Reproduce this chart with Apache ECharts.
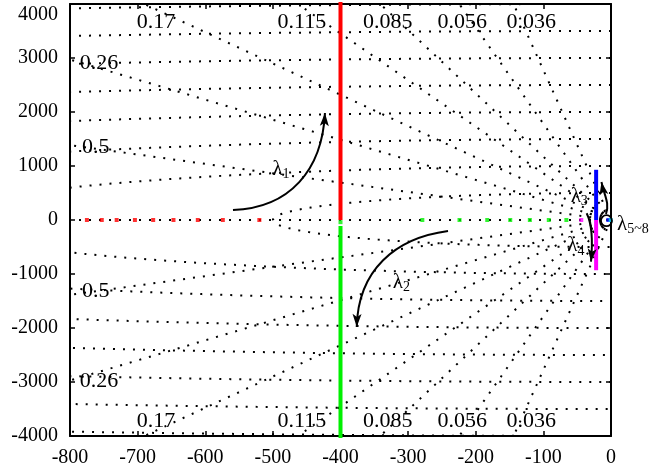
<!DOCTYPE html>
<html>
<head>
<meta charset="utf-8">
<script src="https://cdn.jsdelivr.net/npm/echarts@6/dist/echarts.min.js"></script>
<style>
  html, body { margin: 0; padding: 0; background: #fff; }
  #main { width: 649px; height: 471px; }
</style>
</head>
<body>
<div id="main"></div>
<script>
// Axis ticks
const xTicks = [-800, -700, -600, -500, -400, -300, -200, -100, 0];
const yTicks = [-4000, -3000, -2000, -1000, 0, 1000, 2000, 3000, 4000];

// s-plane grid: damping ratios (rays) and natural frequencies (circles)
const dampingRatios = [0.036, 0.056, 0.085, 0.115, 0.17, 0.26, 0.5];
const naturalFreqs = [500, 1000, 1500, 2000, 2500, 3000, 3500, 4000];

// Root-locus branches
const lambda1Real = [-775, -753, -731, -704, -677, -647, -611, -574, -520];
const lambda1Imag = [[-400, 0], [-400, 4100]];
const lambda2Real = [-279, -224, -183, -149, -120, -92, -66, -400];
const lambda2RealImag = [0, 0, 0, 0, 0, 0, 0, -40];
const lambda2Imag = [[-400, -110], [-400, -4100]];
const lambda3Real = [-4];
const lambda3Imag = [[-22, 0], [-22, 930]];
const lambda4Real = [-44];
const lambda4Imag = [[-22, 0], [-22, -930]];
const lambda58Real = [-0.5];

// Damping-ratio labels
const zetaLabelText = ['0.17', '0.115', '0.085', '0.056', '0.036', '0.26', '0.5',
                       '0.17', '0.115', '0.085', '0.056', '0.036', '0.26', '0.5'];
const zetaLabelAt = [
  [-673, 3657], [-457, 3657], [-330, 3657], [-220, 3657], [-118, 3657], [-757, 2907], [-762, 1352],
  [-673, -3735], [-457, -3735], [-330, -3735], [-220, -3735], [-118, -3735], [-757, -2981], [-762, -1324]
];

// Branch annotations (cubic curves with arrow heads, in s-plane coordinates)
const arrowPaths = [
  [[-559, 185], [-475, 222], [-427, 926], [-423, 1981]],
  [[-241, -204], [-319, -333], [-374, -926], [-376, -1981]],
  [[-7.4, 111], [-1.5, 315], [-10.4, 463], [-14.1, 704]],
  [[-36, 124], [-29.6, -37], [-26.6, -370], [-29.6, -772]]
];
const branchNames = [
  { sub: '1', at: [-488, 944] },
  { sub: '2', at: [-310, -1148] },
  { sub: '3', at: [-47, 444] },
  { sub: '4', at: [-52, -481] },
  { sub: '5~8', at: [9, -74] }
];

const FONT = 'Liberation Serif';
const dotted = { color: '#000', width: 2, type: [2, 8] };

const series = [];
function gridLine(data) {
  series.push({
    type: 'line', data: data, showSymbol: false, silent: true, z: 1,
    lineStyle: dotted, animation: false, clip: true
  });
}
dampingRatios.forEach(function (z) {
  const s = Math.sqrt(1 - z * z);
  const L = 40000;
  gridLine([[0, 0], [-L * z, L * s]]);
  gridLine([[0, 0], [-L * z, -L * s]]);
});
gridLine([[0, 0], [-1000, 0]]);
naturalFreqs.forEach(function (R) {
  const pts = [];
  for (let a = 90; a <= 270.0001; a += 0.2) {
    const t = a * Math.PI / 180;
    pts.push([R * Math.cos(t), R * Math.sin(t)]);
  }
  gridLine(pts);
});

function branchLine(data, color) {
  series.push({
    type: 'line', data: data, showSymbol: false, silent: true, z: 3,
    lineStyle: { color: color, width: 4 }, animation: false
  });
}
function branchPoints(xs, ys, color) {
  series.push({
    type: 'scatter', silent: true, z: 4, symbol: 'rect', symbolSize: 4,
    itemStyle: { color: color },
    data: xs.map(function (x, i) { return [x, ys ? ys[i] : 0]; }),
    animation: false
  });
}
branchPoints(lambda1Real, null, '#ff0000');
branchLine(lambda1Imag, '#ff0000');
branchPoints(lambda2Real, lambda2RealImag, '#00f000');
branchLine(lambda2Imag, '#00f000');
branchLine(lambda3Imag, '#0000ff');
branchLine(lambda4Imag, '#ff00ff');
branchPoints(lambda4Real, null, '#ff00ff');
branchPoints(lambda3Real, null, '#0000ff');
branchPoints(lambda58Real, null, '#00e5ff');

const axisLine = { show: true, onZero: false, lineStyle: { color: '#000', width: 2 } };
const tick = { show: true, inside: true, length: 5, lineStyle: { color: '#000', width: 1.5 } };
const labelFont = { color: '#000', fontFamily: FONT, fontSize: 20 };

const option = {
  animation: false,
  backgroundColor: '#fff',
  grid: { left: 70, right: 38, top: 4, bottom: 35, containLabel: false },
  xAxis: [
    { type: 'value', min: -800, max: 0, interval: 100, position: 'bottom',
      axisLine: axisLine, axisTick: tick, splitLine: { show: false },
      axisLabel: Object.assign({ margin: 12 }, labelFont) },
    { type: 'value', min: -800, max: 0, interval: 100, position: 'top',
      axisLine: axisLine, axisTick: tick, splitLine: { show: false },
      axisLabel: { show: false } }
  ],
  yAxis: [
    { type: 'value', min: -4000, max: 4000, interval: 1000, position: 'left',
      axisLine: axisLine, axisTick: tick, splitLine: { show: false },
      axisLabel: Object.assign({
        margin: 12,
        formatter: function (v) { return v === 4000 ? '{top|4000}' : String(v); },
        rich: { top: { fontFamily: FONT, fontSize: 20, color: '#000', padding: [22, 0, 0, 0] } }
      }, labelFont) },
    { type: 'value', min: -4000, max: 4000, interval: 1000, position: 'right',
      axisLine: axisLine, axisTick: tick, splitLine: { show: false },
      axisLabel: { show: false } }
  ],
  series: series
};

const chart = echarts.init(document.getElementById('main'), null, { renderer: 'canvas' });
chart.setOption(option);

// Annotations drawn on top of the plot
function px(p) { return chart.convertToPixel({ gridIndex: 0 }, p); }
const graphics = [];

zetaLabelText.forEach(function (t, i) {
  const p = px(zetaLabelAt[i]);
  graphics.push({
    type: 'text', z: 50, silent: true,
    style: { text: t, x: p[0], y: p[1], fill: '#000', font: '22px "' + FONT + '"',
             align: 'center', verticalAlign: 'middle' }
  });
});

function arrowHead(tip, from, len, half, notch) {
  let dx = tip[0] - from[0], dy = tip[1] - from[1];
  const d = Math.hypot(dx, dy); dx /= d; dy /= d;
  const bx = tip[0] - dx * len, by = tip[1] - dy * len;
  const nx = -dy, ny = dx;
  return [tip, [bx + nx * half, by + ny * half],
          [tip[0] - dx * (len - notch), tip[1] - dy * (len - notch)],
          [bx - nx * half, by - ny * half]];
}

arrowPaths.forEach(function (path) {
  const p = path.map(px);
  graphics.push({
    type: 'bezierCurve', z: 60, silent: true,
    shape: { x1: p[0][0], y1: p[0][1], cpx1: p[1][0], cpy1: p[1][1],
             cpx2: p[2][0], cpy2: p[2][1], x2: p[3][0], y2: p[3][1] },
    style: { stroke: '#000', lineWidth: 2, fill: null }
  });
  graphics.push({
    type: 'polygon', z: 61, silent: true,
    shape: { points: arrowHead(p[3], p[2], 13, 4.5, 3) },
    style: { fill: '#000', stroke: null }
  });
});

// loop around the origin cluster
const loopC = px([-6.7, -13]);
graphics.push({
  type: 'circle', z: 60, silent: true,
  shape: { cx: loopC[0], cy: loopC[1], r: 5.5 },
  style: { stroke: '#000', lineWidth: 1.8, fill: null }
});
// dotted bracket beside the imaginary-axis pair
const b0 = px([-26.6, 241]), bm = px([-31.1, 0]), b2 = px([-25.2, -241]);
graphics.push({
  type: 'bezierCurve', z: 60, silent: true,
  shape: { x1: b0[0], y1: b0[1], x2: b2[0], y2: b2[1],
           cpx1: 2 * bm[0] - (b0[0] + b2[0]) / 2, cpy1: 2 * bm[1] - (b0[1] + b2[1]) / 2 },
  style: { stroke: '#000', lineWidth: 1.5, lineDash: [1.5, 2], fill: null }
});

branchNames.forEach(function (b, i) {
  const p = px(b.at);
  graphics.push({
    type: 'text', z: 70, silent: true,
    style: {
      text: '{l|λ}{s|' + b.sub + '}', x: p[0], y: p[1],
      align: i === 4 ? 'left' : 'center', verticalAlign: 'middle',
      rich: {
        l: { fontFamily: FONT, fontSize: 21, fill: '#000', color: '#000' },
        s: { fontFamily: FONT, fontSize: 14, fill: '#000', color: '#000', padding: [10, 0, 0, 0] }
      }
    }
  });
});

chart.setOption({ graphic: { elements: graphics } });
</script>
</body>
</html>
